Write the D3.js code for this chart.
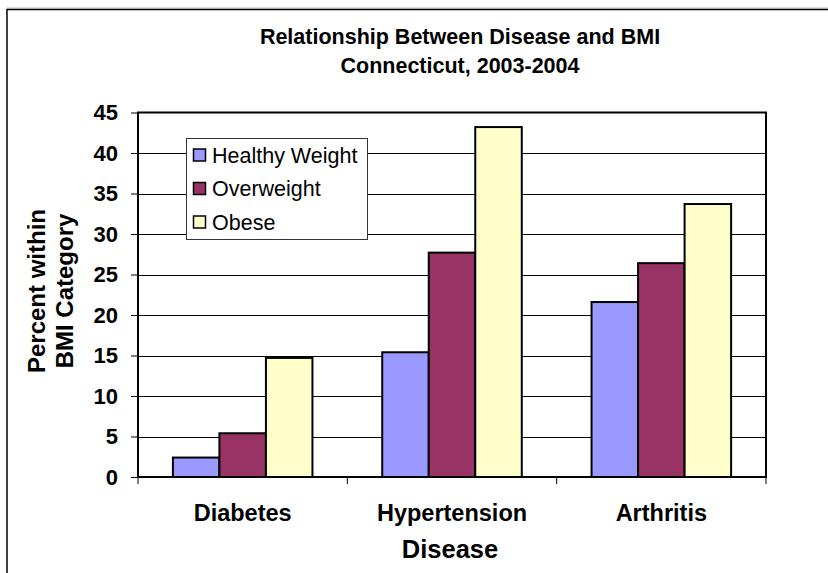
<!DOCTYPE html>
<html><head><meta charset="utf-8">
<script src="https://cdn.jsdelivr.net/npm/d3@7"></script>
<style>html,body{margin:0;padding:0;background:#fff;}svg{display:block;font-family:"Liberation Sans",Arial,sans-serif;}</style>
</head><body>
<svg id="c" width="828" height="573"></svg>
<script>
const categories = ["Diabetes", "Hypertension", "Arthritis"];
const seriesNames = ["Healthy Weight", "Overweight", "Obese"];
const healthyWeight = [2.4, 15.4, 21.6];
const overweight = [5.4, 27.7, 26.4];
const obese = [14.7, 43.2, 33.7];
const yTicks = [0, 5, 10, 15, 20, 25, 30, 35, 40, 45];
const colors = ["#9999FF", "#993366", "#FFFFCC"];
const titleLines = ["Relationship Between Disease and BMI", "Connecticut, 2003-2004"];

const seriesValues = [healthyWeight, overweight, obese];
const svg = d3.select("#c");
const L = 138, R = 766, T = 112.5, B = 477;

// outer frame (top and left visible)
svg.append("line").attr("x1",7).attr("x2",828).attr("y1",8).attr("y2",8).attr("stroke","#bbb").attr("stroke-width",1);
svg.append("path").attr("d","M7,573 V9.5 H828").attr("fill","none").attr("stroke","#000").attr("stroke-width",1.5);

const x0 = d3.scaleBand().domain(categories).range([L, R]).padding(0);
const bw = x0.bandwidth();
const x1 = d3.scaleBand().domain(seriesNames).range([bw/6, bw*5/6]).padding(0);
const y = d3.scaleLinear().domain([0,45]).range([B, T]);

// gridlines
svg.append("g").selectAll("line").data(yTicks.filter(t=>t>0 && t<45)).join("line")
  .attr("x1",L).attr("x2",R).attr("y1",d=>Math.round(y(d))+0.5).attr("y2",d=>Math.round(y(d))+0.5)
  .attr("stroke","#000").attr("stroke-width",1);

// y axis
const yAxis = d3.axisLeft(y).tickValues(yTicks).tickSize(7).tickPadding(13).tickFormat(d3.format("d"));
const gy = svg.append("g").attr("transform",`translate(${L},0)`).call(yAxis);
gy.select(".domain").remove();
gy.selectAll(".tick line").attr("stroke","#000");
gy.selectAll(".tick text").attr("font-size",22).attr("font-weight","bold").attr("fill","#000")
  .attr("font-family","'Liberation Sans',Arial,sans-serif");

// x axis
const xAxis = d3.axisBottom(x0).tickSize(0).tickPadding(42);
const gx = svg.append("g").attr("transform",`translate(0,${B})`).call(xAxis);
gx.select(".domain").remove();
gx.selectAll(".tick text").attr("font-size",23.5).attr("font-weight","bold").attr("fill","#000")
  .attr("font-family","'Liberation Sans',Arial,sans-serif").attr("dy","0.1em");
// category boundary ticks
const bounds = categories.map(c=>x0(c)).concat([R]);
svg.append("g").selectAll("line").data(bounds).join("line")
  .attr("x1",d=>d).attr("x2",d=>d).attr("y1",B).attr("y2",B+7).attr("stroke","#000").attr("stroke-width",1);

// bars
const groups = svg.append("g").selectAll("g").data(categories).join("g")
  .attr("transform",c=>`translate(${x0(c)},0)`);
groups.selectAll("rect").data((c,i)=>seriesNames.map((s,j)=>({s, j, v: seriesValues[j][i]}))).join("rect")
  .attr("x",d=>x1(d.s)).attr("width",x1.bandwidth())
  .attr("y",d=>y(d.v)).attr("height",d=>B-y(d.v))
  .attr("fill",d=>colors[d.j]).attr("stroke","#000").attr("stroke-width",2);

// plot frame
svg.append("rect").attr("x",L).attr("y",T).attr("width",R-L).attr("height",B-T)
  .attr("fill","none").attr("stroke","#000").attr("stroke-width",2);

// legend
const lg = svg.append("g").attr("transform","translate(186,138)");
lg.append("rect").attr("x",0.5).attr("y",0.5).attr("width",181).attr("height",101)
  .attr("fill","#fff").attr("stroke","#333").attr("stroke-width",1);
const items = lg.selectAll("g").data(seriesNames).join("g")
  .attr("transform",(d,i)=>`translate(0,${17 + i*33.5})`);
items.append("rect").attr("x",7.5).attr("y",-6).attr("width",12).attr("height",12)
  .attr("fill",(d,i)=>colors[i]).attr("stroke","#000").attr("stroke-width",1.5);
items.append("text").attr("x",26).attr("y",7.5).attr("font-size",21.5).attr("fill","#000").text(d=>d);

// title
svg.append("g").selectAll("text").data(titleLines).join("text")
  .attr("x",460).attr("y",(d,i)=>44+i*29).attr("text-anchor","middle")
  .attr("font-size",21.5).attr("font-weight","bold").text(d=>d);

// axis titles
svg.append("text").attr("x",450).attr("y",558).attr("text-anchor","middle")
  .attr("font-size",25.5).attr("font-weight","bold").text("Disease");
const yt = svg.append("text").attr("transform","translate(0,291) rotate(-90)").attr("text-anchor","middle")
  .attr("font-size",24).attr("font-weight","bold");
yt.append("tspan").attr("x",0).attr("y",45).text("Percent within");
yt.append("tspan").attr("x",0).attr("y",73).text("BMI Category");
</script>
</body></html>
